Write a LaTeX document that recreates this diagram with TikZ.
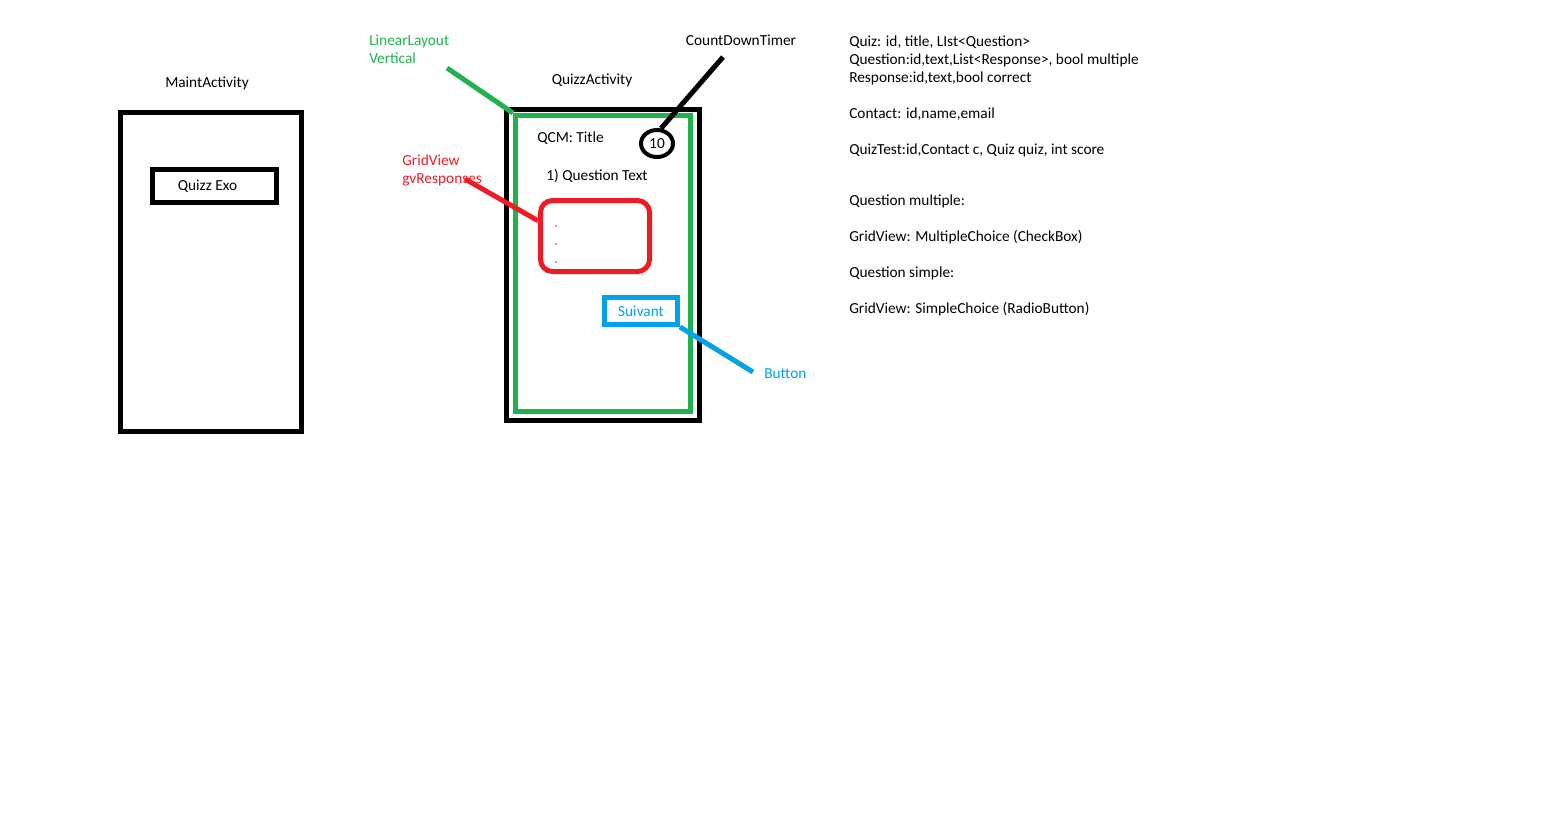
\documentclass[tikz,border=0pt]{standalone}
\usepackage{fontspec}
\setmainfont{Carlito}
\usetikzlibrary{shapes.geometric}
\definecolor{pgreen}{HTML}{22B14C}
\definecolor{pred}{HTML}{ED1C24}
\definecolor{pblue}{HTML}{00A2E8}
\tikzset{
  lbl/.style={inner sep=0pt, font=\fontsize{11.5}{13.5}\selectfont},
  frame/.style={draw, line width=3.75pt, inner sep=0pt, font=\fontsize{11.5}{13.5}\selectfont},
  lead/.style={line width=3.75pt},
}
\begin{document}
\begin{tikzpicture}[x=0.75pt,y=-0.75pt]
    \useasboundingbox (0,0) rectangle (1552,818);

    % MaintActivity
    \node[lbl, anchor=base] (mainlbl) at (207,87) {MaintActivity};
    \node[frame, minimum width=135.75pt, minimum height=239.25pt] (main) at (211,272) {};
    \node[frame, minimum width=93pt, minimum height=24.75pt] (exo) at (214.5,186) {Quizz Exo\kern10.5pt};

    % QuizzActivity
    \node[lbl, anchor=base] (quizlbl) at (592,84) {QuizzActivity};
    \node[frame, minimum width=144.75pt, minimum height=233.25pt] (quiz) at (603,265) {};
    \node[frame, draw=pgreen, minimum width=131.25pt, minimum height=222pt] (lin) at (603,263.5) {};

    % contenu
    \node[lbl, anchor=base west] (title) at (537,142) {QCM: Title};
    \node[frame, ellipse, line width=3pt, minimum width=24pt, minimum height=20.25pt] (timer) at (657,143.5) {10};
    \node[lbl, anchor=base] (qtext) at (597,180) {1) Question Text};
    \node[frame, draw=pred, rounded corners=9pt, minimum width=81.75pt, minimum height=53.25pt] (grid) at (595,236) {};
    \foreach \y in {226,244,262}
        \fill[pred!70] (556,\y) circle (0.9pt);
    \node[frame, draw=pblue, text=pblue, minimum width=54.75pt, minimum height=20.25pt] (btn) at (641,311) {Suivant};

    % Annotations
    \node[lbl, text=pgreen, align=left, anchor=base west] (linlbl) at (369,63) {LinearLayout\\Vertical};
    \node[lbl, anchor=base] (cdtlbl) at (741,45) {CountDownTimer};
    \node[lbl, text=pred, align=left, anchor=base west] (gvlbl) at (402,183) {GridView\\gvResponses};
    \node[lbl, text=pblue, anchor=base west] (btnlbl) at (764,378) {Button};

    \coordinate (linTip) at (447,68);
    \coordinate (cdtTip) at (723,57);
    \coordinate (gvTip) at (465,179);
    \coordinate (btnTip) at (753,372);

    \draw[lead, pgreen] (linTip) -- (lin.north west);
    \draw[lead] (cdtTip) -- (timer.75);
    \draw[lead, pred] (gvTip) -- (grid.165);
    \draw[lead, pblue] (btn.south east) -- (btnTip);

    % Modele
    \foreach \y/\t in {46/{Quiz: id, title, LIst<Question>},
                       64/{Question:id,text,List<Response>, bool multiple},
                       82/{Response:id,text,bool correct},
                       118/{Contact: id,name,email},
                       154/{QuizTest:id,Contact c, Quiz quiz, int score},
                       205/{Question multiple:},
                       241/{GridView: MultipleChoice (CheckBox)},
                       277/{Question simple:},
                       313/{GridView: SimpleChoice (RadioButton)}}
        \node[lbl, anchor=base west] (txt\y) at (849,\y) {\t};
\end{tikzpicture}
\end{document}
